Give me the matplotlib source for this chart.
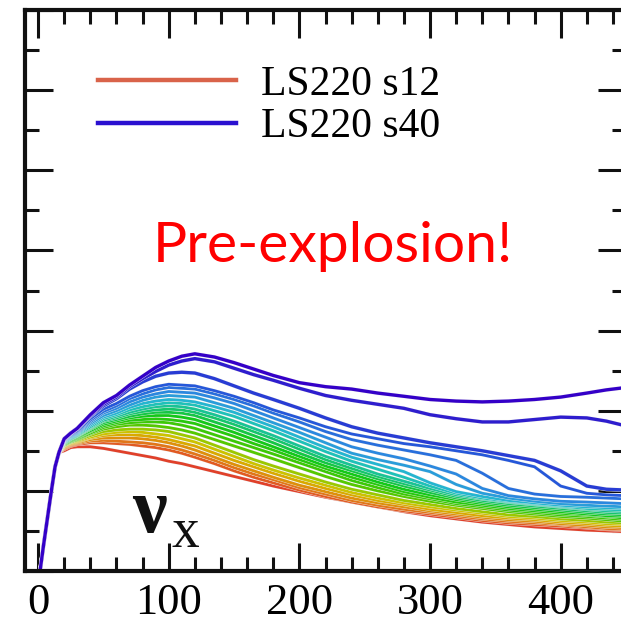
import numpy as np
import matplotlib
matplotlib.use("Agg")
import matplotlib.pyplot as plt
import matplotlib.patheffects as pe
from matplotlib.colors import LinearSegmentedColormap
from matplotlib.ticker import MultipleLocator
from matplotlib.lines import Line2D

# common steep rise right after bounce (all models overlap here)
t_rise = [1.5, 4, 7, 10, 13, 16]
lum_rise = [0.0, 0.30, 0.64, 0.98, 1.30, 1.48]

# sample times for the individual models
t_grid = [20, 25, 30, 40, 50, 60, 70, 80, 90, 100, 110, 120, 135, 150, 165,
          180, 200, 220, 240, 260, 280, 300, 320, 340, 360, 380, 400, 420, 435, 450]

# nu_x luminosity per model, ordered from s12 (first) to s40 (last)
lum_models = [
    [1.50, 1.54, 1.55, 1.55, 1.53, 1.50, 1.47, 1.44, 1.41, 1.37, 1.34, 1.30, 1.24, 1.18, 1.12,
     1.06, 0.99, 0.92, 0.86, 0.80, 0.74, 0.69, 0.65, 0.61, 0.58, 0.55, 0.53, 0.51, 0.50, 0.49],
    [1.52, 1.56, 1.58, 1.60, 1.60, 1.59, 1.58, 1.56, 1.54, 1.51, 1.47, 1.42, 1.34, 1.25, 1.17,
     1.10, 1.01, 0.93, 0.86, 0.80, 0.75, 0.71, 0.67, 0.63, 0.60, 0.58, 0.56, 0.54, 0.52, 0.51],
    [1.53, 1.57, 1.59, 1.62, 1.63, 1.62, 1.61, 1.60, 1.58, 1.55, 1.51, 1.46, 1.38, 1.29, 1.21,
     1.14, 1.04, 0.96, 0.88, 0.82, 0.77, 0.73, 0.69, 0.65, 0.62, 0.60, 0.58, 0.55, 0.53, 0.52],
    [1.54, 1.58, 1.60, 1.64, 1.66, 1.66, 1.66, 1.65, 1.63, 1.60, 1.56, 1.51, 1.42, 1.33, 1.25,
     1.17, 1.07, 0.99, 0.91, 0.85, 0.80, 0.75, 0.71, 0.67, 0.64, 0.62, 0.59, 0.57, 0.55, 0.54],
    [1.55, 1.59, 1.61, 1.66, 1.69, 1.70, 1.70, 1.69, 1.67, 1.64, 1.60, 1.56, 1.47, 1.38, 1.30,
     1.22, 1.12, 1.03, 0.95, 0.88, 0.83, 0.77, 0.73, 0.69, 0.66, 0.64, 0.61, 0.59, 0.57, 0.56],
    [1.56, 1.60, 1.62, 1.67, 1.71, 1.73, 1.74, 1.73, 1.71, 1.69, 1.65, 1.61, 1.52, 1.43, 1.34,
     1.26, 1.16, 1.07, 0.98, 0.91, 0.85, 0.80, 0.76, 0.72, 0.68, 0.66, 0.63, 0.61, 0.59, 0.58],
    [1.57, 1.61, 1.63, 1.69, 1.74, 1.76, 1.77, 1.77, 1.76, 1.74, 1.70, 1.66, 1.57, 1.48, 1.39,
     1.31, 1.21, 1.11, 1.02, 0.95, 0.88, 0.83, 0.78, 0.74, 0.70, 0.68, 0.65, 0.63, 0.61, 0.60],
    [1.57, 1.61, 1.64, 1.71, 1.77, 1.80, 1.82, 1.82, 1.81, 1.79, 1.76, 1.72, 1.64, 1.56, 1.48,
     1.40, 1.29, 1.18, 1.08, 1.00, 0.93, 0.87, 0.82, 0.78, 0.74, 0.71, 0.68, 0.66, 0.64, 0.62],
    [1.58, 1.62, 1.65, 1.72, 1.79, 1.83, 1.85, 1.86, 1.86, 1.85, 1.82, 1.78, 1.70, 1.62, 1.54,
     1.46, 1.35, 1.24, 1.13, 1.04, 0.96, 0.90, 0.84, 0.80, 0.76, 0.73, 0.70, 0.68, 0.66, 0.64],
    [1.58, 1.62, 1.66, 1.74, 1.81, 1.85, 1.88, 1.89, 1.90, 1.89, 1.87, 1.84, 1.76, 1.68, 1.59,
     1.51, 1.39, 1.28, 1.17, 1.08, 0.99, 0.92, 0.86, 0.82, 0.78, 0.75, 0.72, 0.70, 0.68, 0.66],
    [1.59, 1.63, 1.67, 1.75, 1.83, 1.87, 1.91, 1.93, 1.94, 1.94, 1.92, 1.89, 1.81, 1.73, 1.64,
     1.55, 1.43, 1.31, 1.21, 1.11, 1.02, 0.95, 0.89, 0.84, 0.80, 0.77, 0.74, 0.71, 0.69, 0.68],
    [1.59, 1.64, 1.68, 1.77, 1.85, 1.89, 1.93, 1.96, 1.98, 1.98, 1.97, 1.94, 1.86, 1.78, 1.69,
     1.60, 1.47, 1.35, 1.25, 1.15, 1.06, 0.98, 0.91, 0.86, 0.82, 0.79, 0.76, 0.73, 0.71, 0.70],
    [1.60, 1.65, 1.69, 1.78, 1.87, 1.91, 1.96, 1.99, 2.01, 2.02, 2.01, 1.98, 1.91, 1.83, 1.74,
     1.65, 1.52, 1.39, 1.28, 1.18, 1.09, 1.01, 0.93, 0.88, 0.84, 0.81, 0.78, 0.75, 0.73, 0.72],
    [1.60, 1.65, 1.69, 1.79, 1.88, 1.93, 1.98, 2.02, 2.05, 2.06, 2.05, 2.02, 1.95, 1.87, 1.78,
     1.69, 1.56, 1.43, 1.32, 1.21, 1.12, 1.03, 0.95, 0.90, 0.86, 0.83, 0.80, 0.77, 0.75, 0.74],
    [1.61, 1.66, 1.70, 1.80, 1.90, 1.95, 2.01, 2.05, 2.08, 2.10, 2.09, 2.07, 2.00, 1.93, 1.84,
     1.75, 1.62, 1.49, 1.37, 1.27, 1.17, 1.06, 0.97, 0.91, 0.87, 0.84, 0.81, 0.78, 0.77, 0.76],
    [1.61, 1.67, 1.71, 1.82, 1.92, 1.97, 2.04, 2.09, 2.12, 2.14, 2.13, 2.11, 2.05, 1.98, 1.89,
     1.80, 1.67, 1.54, 1.42, 1.33, 1.24, 1.10, 0.99, 0.93, 0.88, 0.85, 0.82, 0.80, 0.79, 0.78],
    [1.62, 1.68, 1.72, 1.84, 1.94, 2.00, 2.07, 2.13, 2.17, 2.19, 2.18, 2.17, 2.10, 2.03, 1.94,
     1.85, 1.73, 1.60, 1.47, 1.39, 1.32, 1.24, 1.08, 0.97, 0.91, 0.87, 0.84, 0.82, 0.81, 0.80],
    [1.62, 1.69, 1.73, 1.86, 1.97, 2.03, 2.11, 2.17, 2.21, 2.24, 2.23, 2.22, 2.16, 2.09, 2.00,
     1.91, 1.79, 1.67, 1.55, 1.47, 1.40, 1.31, 1.21, 1.03, 0.94, 0.90, 0.87, 0.86, 0.85, 0.84],
    [1.63, 1.70, 1.74, 1.88, 1.99, 2.06, 2.15, 2.21, 2.26, 2.29, 2.28, 2.27, 2.21, 2.14, 2.06,
     1.97, 1.86, 1.74, 1.64, 1.57, 1.51, 1.45, 1.38, 1.22, 1.03, 0.96, 0.93, 0.92, 0.91, 0.90],
    [1.63, 1.71, 1.75, 1.90, 2.02, 2.09, 2.18, 2.25, 2.30, 2.33, 2.32, 2.31, 2.25, 2.18, 2.10,
     2.01, 1.91, 1.80, 1.71, 1.65, 1.59, 1.55, 1.50, 1.45, 1.38, 1.30, 1.06, 0.97, 0.95, 0.94],
    [1.64, 1.72, 1.77, 1.93, 2.06, 2.15, 2.27, 2.36, 2.43, 2.47, 2.48, 2.47, 2.40, 2.31, 2.22,
     2.14, 2.03, 1.91, 1.80, 1.72, 1.66, 1.60, 1.55, 1.50, 1.44, 1.38, 1.25, 1.06, 1.02, 1.01],
    [1.65, 1.72, 1.78, 1.94, 2.08, 2.17, 2.30, 2.40, 2.49, 2.57, 2.62, 2.65, 2.61, 2.53, 2.45,
     2.38, 2.28, 2.19, 2.13, 2.08, 2.03, 1.95, 1.90, 1.86, 1.86, 1.89, 1.92, 1.91, 1.87, 1.81],
    [1.65, 1.72, 1.78, 1.95, 2.10, 2.19, 2.32, 2.43, 2.54, 2.62, 2.68, 2.71, 2.67, 2.60, 2.52,
     2.44, 2.35, 2.30, 2.27, 2.22, 2.18, 2.14, 2.12, 2.11, 2.12, 2.14, 2.17, 2.22, 2.26, 2.29],
]

legend_labels = ["LS220 s12", "LS220 s40"]
xticks = [0, 100, 200, 300, 400]

cmap = LinearSegmentedColormap.from_list(
    "progenitors",
    [(0.00, "#e0402a"), (0.08, "#e2701c"), (0.17, "#dca400"), (0.24, "#c8c800"),
     (0.32, "#52c800"), (0.45, "#14c814"), (0.56, "#16c47a"), (0.66, "#22c0cc"),
     (0.76, "#2c8ee0"), (0.88, "#2450d8"), (1.00, "#3400c8")])

fig = plt.figure(figsize=(6.21, 6.23), dpi=100)
ax = fig.add_axes([25 / 621, 52 / 623, 601 / 621, 561 / 623])

n = len(lum_models)
for i, lum in enumerate(lum_models):
    t = np.array(t_rise + t_grid)
    y = np.array(lum_rise + lum)
    lw = 2.4 if i >= n - 3 else 2.0
    ax.plot(t, y, color=cmap(i / (n - 1)), lw=lw,
            solid_joinstyle="round", solid_capstyle="round",
            path_effects=[pe.Stroke(linewidth=lw + 0.5, foreground="#eeeeee"), pe.Normal()])

ax.set_xlim(-10, 450)
ax.set_ylim(0, 7)

ax.xaxis.set_major_locator(MultipleLocator(100))
ax.xaxis.set_minor_locator(MultipleLocator(20))
ax.yaxis.set_major_locator(MultipleLocator(1))
ax.yaxis.set_minor_locator(MultipleLocator(0.5))
ax.set_xticks(xticks)
ax.set_xticklabels([str(v) for v in xticks])

ax.tick_params(which="both", direction="in", top=True, right=True,
               labelleft=False, width=2.2, color="#111111")
ax.tick_params(which="major", length=20)
ax.tick_params(which="minor", length=10)
ax.tick_params(axis="x", labelsize=32, pad=9)
for lab in ax.get_xticklabels():
    lab.set_fontfamily("Liberation Serif")
for sp in ax.spines.values():
    sp.set_linewidth(3)
    sp.set_color("#111111")

handles = [Line2D([], [], color="#d9634a", lw=3.2),
           Line2D([], [], color="#2a10d0", lw=3.2)]
ax.legend(handles, legend_labels, loc="upper left", bbox_to_anchor=(0.087, 0.939),
          frameon=False, handlelength=3.3, handletextpad=0.6, labelspacing=0.1,
          borderpad=0, prop={"family": "Liberation Serif", "size": 30})

ax.text(226, 3.85, "Pre-explosion!", color="#ff0000", fontsize=41,
        family="Lato", ha="center", va="baseline")

ax.text(72, 0.49, "\u03bd", fontsize=56, family="Liberation Serif", weight="bold",
        ha="left", va="baseline", color="#111111")
ax.text(102.5, 0.30, "x", fontsize=40, family="Liberation Serif",
        ha="left", va="baseline", color="#111111")

fig.savefig("out.png", dpi=100)
